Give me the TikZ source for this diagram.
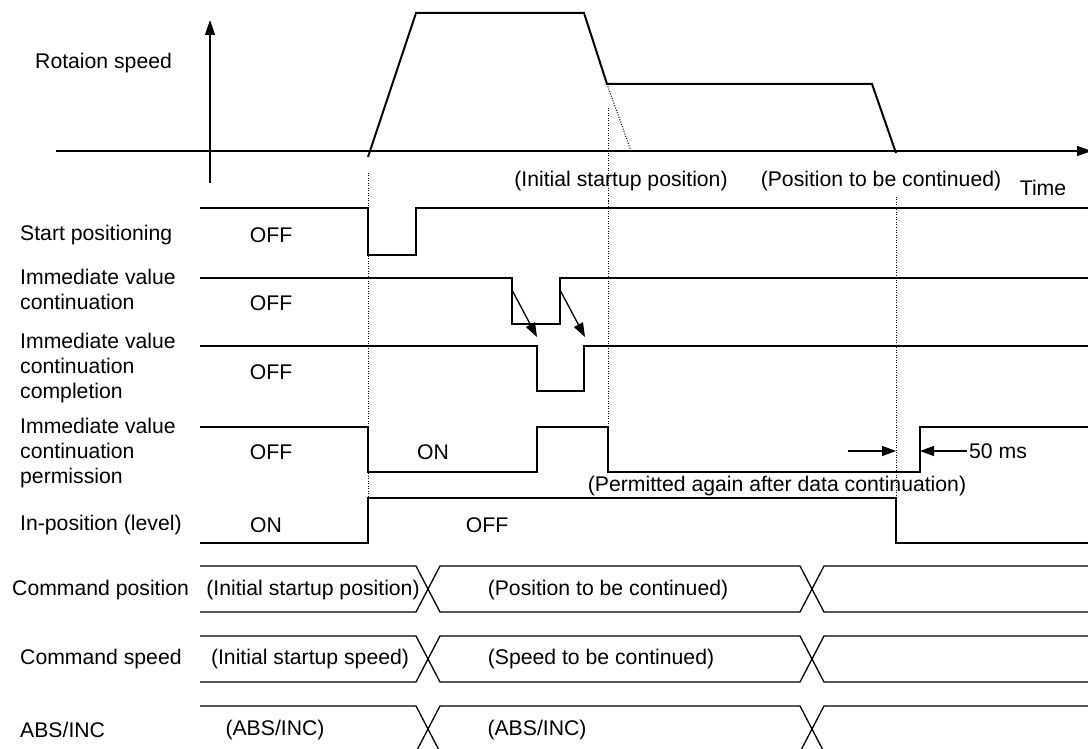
\documentclass[tikz,border=0pt]{standalone}
\usepackage{fontspec}
\setmainfont{Liberation Sans}
\usetikzlibrary{arrows.meta}
% one bus row with two value changes: top edge y, bottom edge y
\newcommand\busrow[2]{%
  \draw[sig] (200,#1) -- (416,#1) -- (440,#2) -- (800,#2) -- (824,#1) -- (1088,#1);
  \draw[sig] (200,#2) -- (416,#2) -- (440,#1) -- (800,#1) -- (824,#2) -- (1088,#2);
}
\begin{document}
\begin{tikzpicture}[x=1pt,y=-1pt,
  txt/.style={font=\fontsize{21.2}{25}\selectfont, inner sep=0pt},
  lbl/.style={txt, anchor=west, align=left},
  sig/.style={line width=1.3pt},
  guide/.style={line width=1pt, dash pattern=on 1pt off 1.5pt},
  tip/.style={-{Triangle[length=14pt,width=10pt]}},
]
\useasboundingbox (0,0) rectangle (1088,749);

% speed graph
\draw[sig, -{Triangle[length=15pt,width=10pt]}] (210,183) -- (210,20);
\draw[sig, -{Triangle[length=15pt,width=10pt]}] (56,151) -- (1092,151);
\draw[line width=2pt, line join=miter] (368,157) -- (416,13) -- (584,13) -- (607,84) -- (872,84) -- (896,153);
\draw[guide] (607,84) -- (631,151);
\node[lbl] (speedlbl) at (35,63) {Rotaion speed};
\node[txt] (initpos) at (621,181) {(Initial startup position)};
\node[txt] (contpos) at (881,181) {(Position to be continued)};
\node[txt] (timelbl) at (1043,188) {Time};

% guide lines through the signal rows
\draw[guide] (368,173) -- (368,498);
\draw[guide] (608,108) -- (608,427);
\draw[guide] (896,197) -- (896,497);

% signal labels
\node[lbl] (l1) at (20,235) {Start positioning};
\node[lbl] (l2) at (20,289.5) {Immediate value\\continuation};
\node[lbl] (l3) at (20,368) {Immediate value\\continuation\\completion};
\node[lbl] (l4) at (20,453) {Immediate value\\continuation\\permission};
\node[lbl] (l5) at (20,525) {In-position (level)};
\node[lbl] (l6) at (12,590) {Command position};
\node[lbl] (l7) at (20,659) {Command speed};
\node[lbl] (l8) at (20,730) {ABS/INC};

% signal waveforms
\draw[sig] (200,208) -- (368,208) -- (368,255) -- (416,255) -- (416,208) -- (1088,208);
\draw[sig] (200,278) -- (512,278) -- (512,324) -- (560,324) -- (560,278) -- (1088,278);
\draw[sig] (200,346) -- (537,346) -- (537,391) -- (584,391) -- (584,346) -- (1088,346);
\draw[sig] (200,427) -- (368,427) -- (368,472) -- (537,472) -- (537,427) -- (608,427)
  -- (608,472) -- (920,472) -- (920,427) -- (1088,427);
\draw[sig] (200,543) -- (368,543) -- (368,498) -- (896,498) -- (896,543) -- (1088,543);

% handshake arrows
\draw[sig, tip] (512,290) -- (537,337);
\draw[sig, tip] (560,290) -- (585,337);

% 50 ms interval
\draw[sig, tip] (848,451) -- (896,451);
\draw[sig, tip] (967,451) -- (920,451);
\node[txt, anchor=west] (ms) at (969,451) {50 ms};

% state texts
\node[txt] (s1) at (271,235) {OFF};
\node[txt] (s2) at (271,303) {OFF};
\node[txt] (s3) at (271,372) {OFF};
\node[txt] (s4) at (271,452) {OFF};
\node[txt] (s4b) at (433,452) {ON};
\node[txt] (s5) at (266,525) {ON};
\node[txt] (s5b) at (487,525) {OFF};
\node[txt] (perm) at (777,486) {(Permitted again after data continuation)};

% data buses
\busrow{566}{612}
\busrow{636}{682}
\busrow{706}{752}
\node[txt] (b1a) at (313,590) {(Initial startup position)};
\node[txt] (b1b) at (608,590) {(Position to be continued)};
\node[txt] (b2a) at (310,659) {(Initial startup speed)};
\node[txt] (b2b) at (601,659) {(Speed to be continued)};
\node[txt] (b3a) at (275,730) {(ABS/INC)};
\node[txt] (b3b) at (537,730) {(ABS/INC)};
\end{tikzpicture}
\end{document}
